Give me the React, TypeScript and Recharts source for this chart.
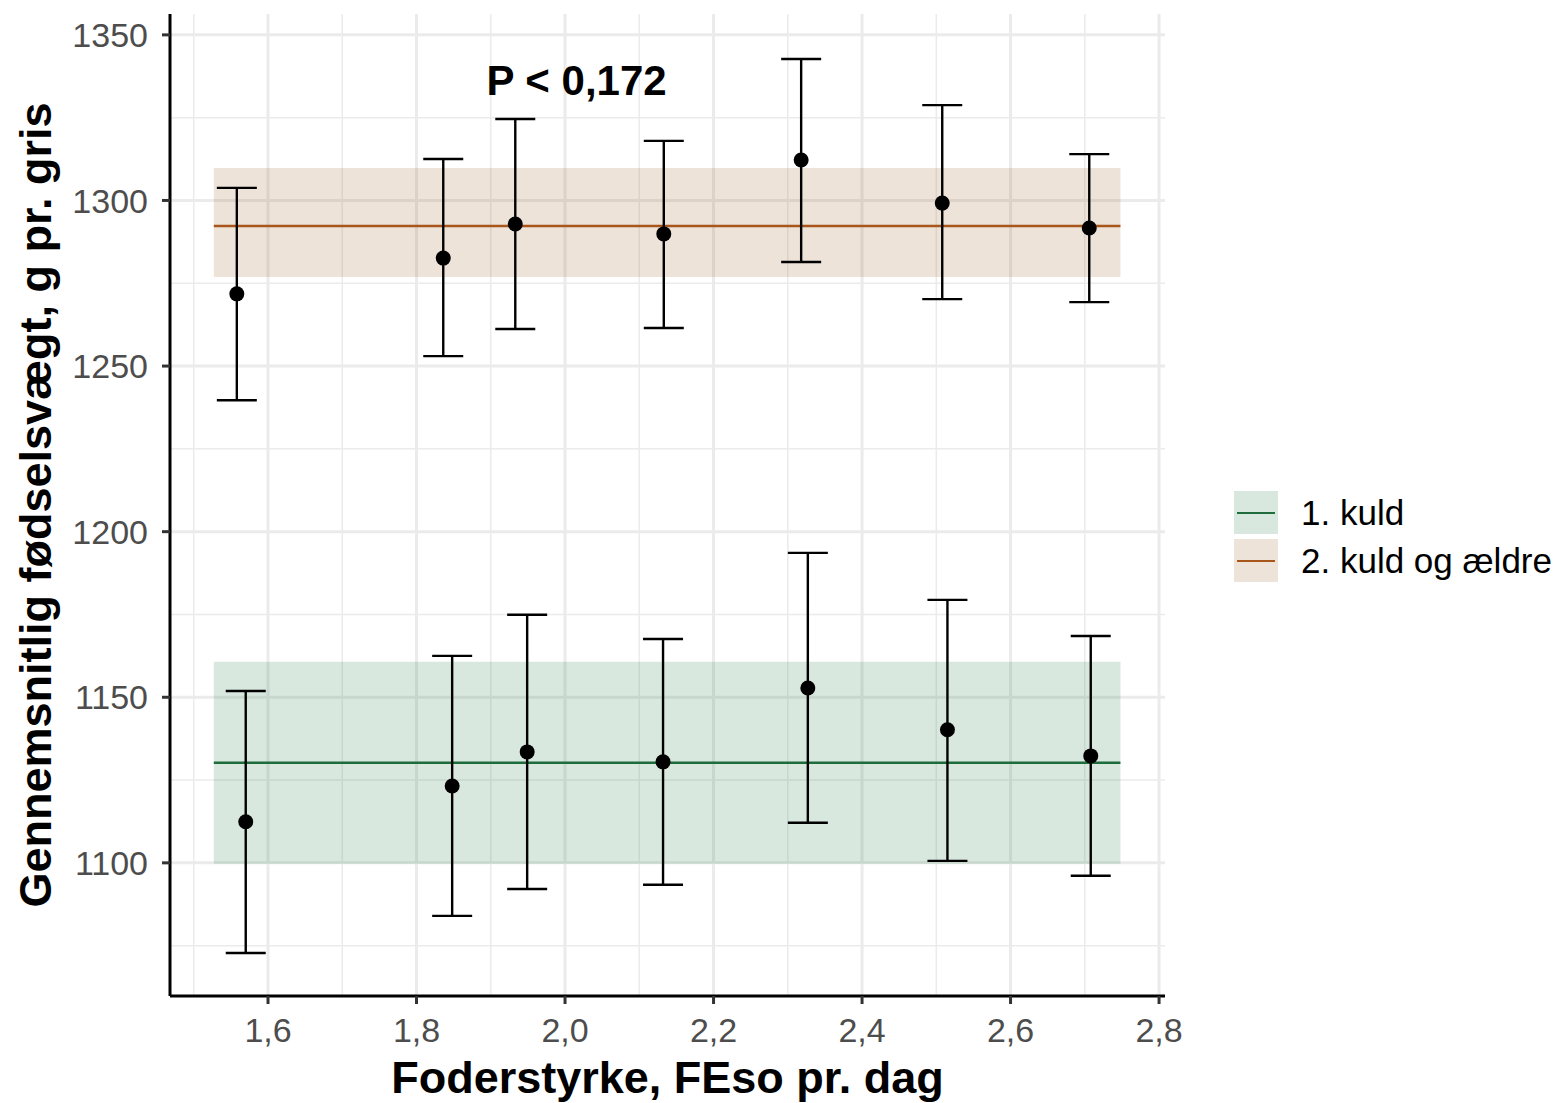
import {
  ComposedChart,
  Scatter,
  ErrorBar,
  XAxis,
  YAxis,
  CartesianGrid,
  ReferenceArea,
  ReferenceLine,
  ReferenceDot,
  Label,
} from 'recharts';

const FONT = '"Liberation Sans", Arial, Helvetica, sans-serif';

const seriesNames = ['1. kuld', '2. kuld og ældre'];
const lineColors = ['#1e6b3c', '#a8561c'];
const bandColors = ['#2e7d4f', '#a0622d'];

// foderstyrke (x), mean birth weight and 95% CI per group
const kuld1X = [1.57, 1.848, 1.949, 2.132, 2.327, 2.515, 2.708];
const kuld1Y = [1112.4, 1123.2, 1133.5, 1130.5, 1152.8, 1140.2, 1132.3];
const kuld1Low = [1072.8, 1084.0, 1092.1, 1093.4, 1112.1, 1100.6, 1096.1];
const kuld1High = [1151.9, 1162.5, 1174.9, 1167.6, 1193.6, 1179.4, 1168.5];

const kuld2X = [1.558, 1.836, 1.933, 2.133, 2.318, 2.508, 2.706];
const kuld2Y = [1271.8, 1282.6, 1292.9, 1289.9, 1312.2, 1299.2, 1291.7];
const kuld2Low = [1239.7, 1253.0, 1261.2, 1261.5, 1281.4, 1270.2, 1269.3];
const kuld2High = [1303.8, 1312.5, 1324.6, 1318.0, 1342.7, 1328.8, 1314.0];

// overall mean and band per group
const bandX = [1.527, 2.748];
const meanY = [1130.2, 1292.3];
const bandLow = [1099.7, 1276.9];
const bandHigh = [1160.7, 1309.8];

const xTicks = [1.6, 1.8, 2.0, 2.2, 2.4, 2.6, 2.8];
const xMinor = [1.5, 1.7, 1.9, 2.1, 2.3, 2.5, 2.7];
const yTicks = [1100, 1150, 1200, 1250, 1300, 1350];
const yMinor = [1075, 1125, 1175, 1225, 1275, 1325];

const pLabel = 'P < 0,172';
const pPos = { x: 2.0155, y: 1336.4 };

const toPoints = (xs: number[], ys: number[], lo: number[], hi: number[]) =>
  xs.map((x, i) => ({ x, y: ys[i], err: [ys[i] - lo[i], hi[i] - ys[i]] }));

const kuld1 = toPoints(kuld1X, kuld1Y, kuld1Low, kuld1High);
const kuld2 = toPoints(kuld2X, kuld2Y, kuld2Low, kuld2High);

const Dot = (props: any) => <circle cx={props.cx} cy={props.cy} r={7.5} fill="#000" />;

export default function App() {
  return (
    <div style={{ position: 'absolute', left: 0, top: 0, width: 1565, height: 1103, background: '#fff' }}>
      <ComposedChart
        width={1565}
        height={1103}
        margin={{ top: 14, right: 400, bottom: 0, left: 0 }}
        style={{ fontFamily: FONT }}
      >
        <CartesianGrid
          verticalValues={xMinor}
          horizontalValues={yMinor}
          stroke="#ebebeb"
          strokeWidth={1.5}
        />
        <CartesianGrid
          verticalValues={xTicks}
          horizontalValues={yTicks}
          stroke="#ebebeb"
          strokeWidth={3}
        />
        <XAxis
          type="number"
          dataKey="x"
          domain={[1.468, 2.808]}
          ticks={xTicks}
          allowDataOverflow
          height={107}
          tickFormatter={(v: number) => v.toFixed(1).replace('.', ',')}
          tick={{ fill: '#4d4d4d', fontSize: 34 }}
          tickSize={8}
          tickMargin={14}
          axisLine={{ stroke: '#000', strokeWidth: 3 }}
          tickLine={{ stroke: '#333', strokeWidth: 3 }}
        >
          <Label
            content={(p: any) => (
              <text
                x={p.viewBox.x + p.viewBox.width / 2}
                y={p.viewBox.y + 97}
                textAnchor="middle"
                fontSize={45}
                fontWeight="bold"
                fill="#000"
              >
                Foderstyrke, FEso pr. dag
              </text>
            )}
          />
        </XAxis>
        <YAxis
          type="number"
          dataKey="y"
          domain={[1059.8, 1356.3]}
          ticks={yTicks}
          allowDataOverflow
          width={170}
          tick={{ fill: '#4d4d4d', fontSize: 34 }}
          tickSize={8}
          tickMargin={14}
          axisLine={{ stroke: '#000', strokeWidth: 3 }}
          tickLine={{ stroke: '#333', strokeWidth: 3 }}
        >
          <Label
            content={(p: any) => {
              const cx = 35;
              const cy = p.viewBox.y + p.viewBox.height / 2;
              return (
                <text
                  x={cx}
                  y={cy}
                  transform={`rotate(-90 ${cx} ${cy})`}
                  textAnchor="middle"
                  dominantBaseline="central"
                  fontSize={45}
                  fontWeight="bold"
                  fill="#000"
                >
                  Gennemsnitlig fødselsvægt, g pr. gris
                </text>
              );
            }}
          />
        </YAxis>

        {meanY.map((m, i) => (
          <ReferenceArea
            key={'band' + i}
            x1={bandX[0]}
            x2={bandX[1]}
            y1={bandLow[i]}
            y2={bandHigh[i]}
            fill={bandColors[i]}
            fillOpacity={0.18}
            stroke="none"
          />
        ))}
        {meanY.map((m, i) => (
          <ReferenceLine
            key={'mean' + i}
            segment={[
              { x: bandX[0], y: m },
              { x: bandX[1], y: m },
            ]}
            stroke={lineColors[i]}
            strokeWidth={2.5}
          />
        ))}

        <Scatter name={seriesNames[0]} data={kuld1} shape={Dot} isAnimationActive={false}>
          <ErrorBar dataKey="err" direction="y" width={20} stroke="#000" strokeWidth={2.4} />
        </Scatter>
        <Scatter name={seriesNames[1]} data={kuld2} shape={Dot} isAnimationActive={false}>
          <ErrorBar dataKey="err" direction="y" width={20} stroke="#000" strokeWidth={2.4} />
        </Scatter>

        <ReferenceDot
          x={pPos.x}
          y={pPos.y}
          r={0}
          fill="none"
          stroke="none"
          label={{ value: pLabel, position: 'center', fontSize: 42, fontWeight: 'bold', fill: '#000' }}
        />
      </ComposedChart>

      <div style={{ position: 'absolute', left: 1234, top: 491, fontFamily: FONT }}>
        {seriesNames.map((name, i) => (
          <div key={name} style={{ display: 'flex', alignItems: 'center', height: 43, marginBottom: 5 }}>
            <div
              style={{
                width: 44,
                height: 43,
                position: 'relative',
                background: bandColors[i] + '2e',
              }}
            >
              <div
                style={{
                  position: 'absolute',
                  left: 3,
                  right: 3,
                  top: 20.5,
                  height: 2.5,
                  background: lineColors[i],
                }}
              />
            </div>
            <span style={{ marginLeft: 23, fontSize: 35, color: '#000', whiteSpace: 'nowrap' }}>{name}</span>
          </div>
        ))}
      </div>
    </div>
  );
}
